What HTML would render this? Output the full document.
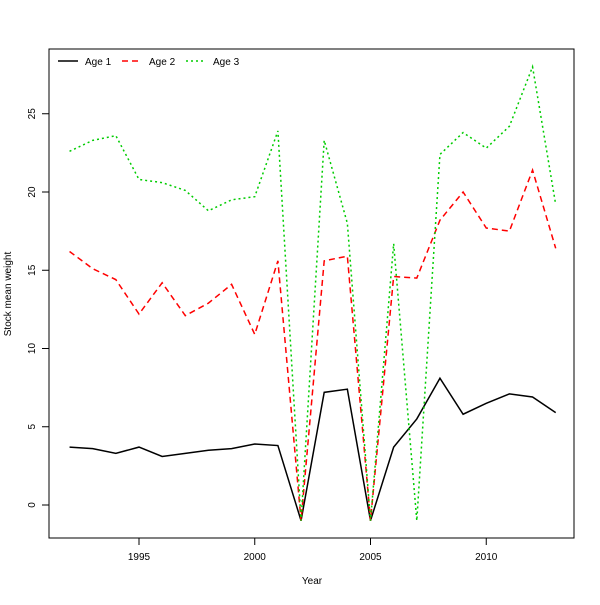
<!DOCTYPE html>
<html><head><meta charset="utf-8"><style>
body{margin:0;background:#fff;font-family:"Liberation Sans","DejaVu Sans",sans-serif;}
svg text{font-size:10px;fill:#000;}
</style></head><body>
<svg id="chart" width="600" height="600">
<rect x="49" y="49" width="525" height="489" fill="none" stroke="#000"/>
<g id="xaxis"></g>
<g id="yaxis"></g>
<g id="series"></g>
<text x="312" y="584" text-anchor="middle">Year</text>
<text transform="translate(11,294) rotate(-90)" text-anchor="middle">Stock mean weight</text>
<g>
<line x1="58" y1="61" x2="78" y2="61" stroke="#000" stroke-width="1.5"/>
<text x="85" y="65">Age 1</text>
<line x1="122" y1="61" x2="142" y2="61" stroke="#f00" stroke-width="1.5" stroke-dasharray="6,4"/>
<text x="149" y="65">Age 2</text>
<line x1="186" y1="61" x2="206" y2="61" stroke="#0c0" stroke-width="1.5" stroke-dasharray="2,3"/>
<text x="213" y="65">Age 3</text>
</g>
</svg>
<script>
const years=[1992,1993,1994,1995,1996,1997,1998,1999,2000,2001,2002,2003,2004,2005,2006,2007,2008,2009,2010,2011,2012,2013];
const age1=[3.7,3.6,3.3,3.7,3.1,3.3,3.5,3.6,3.9,3.8,-1,7.2,7.4,-1,3.7,5.5,8.1,5.8,6.5,7.1,6.9,5.9];
const age2=[16.2,15.1,14.4,12.2,14.2,12.1,12.9,14.1,10.9,15.6,-1,15.6,15.9,-1,14.6,14.5,18.2,20.0,17.7,17.5,21.4,16.4];
const age3=[22.6,23.3,23.6,20.8,20.6,20.1,18.8,19.5,19.7,23.9,-1,23.3,18.0,-1,16.7,-1,22.4,23.8,22.8,24.2,28.0,19.2];
const xTicks=[1995,2000,2005,2010];
const yTicks=[0,5,10,15,20,25];
const NS="http://www.w3.org/2000/svg";
function xs(v){return 139+(v-1995)*23.15;}
function ys(v){return 505-v*15.65;}
function mk(t,a,p){const e=document.createElementNS(NS,t);for(const k in a)e.setAttribute(k,a[k]);p.appendChild(e);return e;}
const xa=document.getElementById('xaxis'),ya=document.getElementById('yaxis'),sg=document.getElementById('series');
xTicks.forEach(v=>{
 const l=mk('line',{x1:xs(v),x2:xs(v),y1:538,y2:545,stroke:'#000'},xa);
 
 
 const t=mk('text',{x:xs(v),y:560,'text-anchor':'middle'},xa);t.textContent=v;
 
 
});
yTicks.forEach(v=>{
 const l=mk('line',{x1:42,x2:49,y1:ys(v),y2:ys(v),stroke:'#000'},ya);
 
 
 const t=mk('text',{transform:`translate(35,${ys(v)}) rotate(-90)`,'text-anchor':'middle'},ya);t.textContent=v;
 
 
});
function line(d,color,dash,name){
 const pts=d.map((v,i)=>xs(years[i])+','+ys(v)).join(' ');
 const p=mk('polyline',{points:pts,fill:'none',stroke:color,'stroke-width':1.5,'stroke-dasharray':dash},sg);
 
 
}
line(age1,'#000','none','age1-line');
line(age2,'#f00','6,4','age2-line');
line(age3,'#0c0','2,3','age3-line');
</script>
</body></html>
